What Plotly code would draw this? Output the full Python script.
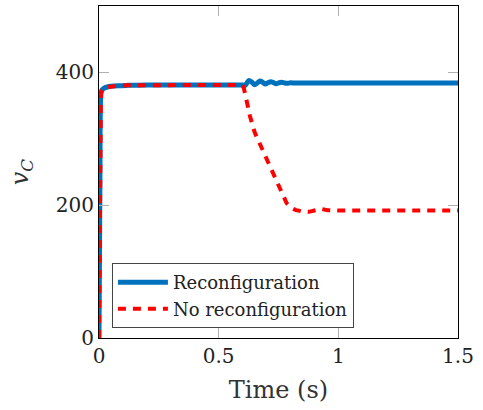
import plotly.graph_objects as go

# Reconfiguration (blue)
t_reconf = [0.0, 0.004, 0.008, 0.012, 0.02, 0.035, 0.05, 0.08, 0.12, 0.2, 0.3, 0.4, 0.5, 0.6,
            0.610, 0.618, 0.627, 0.638, 0.650, 0.661, 0.673, 0.684, 0.695, 0.706, 0.718,
            0.729, 0.740, 0.751, 0.763, 0.774, 0.785, 0.80, 0.82, 0.9, 1.0, 1.2, 1.5]
v_reconf = [0, 250, 368, 373, 376, 378, 379, 380, 380.5, 381, 381, 381, 381, 381,
            380.5, 384, 388, 385.5, 381.5, 384, 387, 385, 382.5, 384.5, 386,
            384.5, 383, 384.3, 385.2, 384.2, 383.5, 384.3, 384, 384, 384, 384, 384]

# No reconfiguration (red dashed)
t_noreconf = [0.0, 0.004, 0.008, 0.012, 0.02, 0.035, 0.05, 0.08, 0.12, 0.2, 0.3, 0.4, 0.5, 0.6,
              0.606, 0.614, 0.631, 0.650, 0.675, 0.696, 0.725, 0.752, 0.770, 0.784, 0.80,
              0.82, 0.85, 0.877, 0.90, 0.927, 0.955, 1.0, 1.5]
v_noreconf = [0, 250, 368, 373, 376, 378, 379, 380, 380.5, 381, 381, 381, 381, 381,
              375, 360, 334, 310, 290, 270, 249, 227, 212, 203, 197,
              193, 190.5, 190, 192, 194.5, 192.5, 192, 192]

x_ticks = [0, 0.5, 1, 1.5]
x_ticklabels = ["0", "0.5", "1", "1.5"]
y_ticks = [0, 200, 400]
y_ticklabels = ["0", "200", "400"]

FONT = "DejaVu Serif"

fig = go.Figure()
fig.add_trace(go.Scatter(
    x=t_reconf, y=v_reconf, mode="lines", name="Reconfiguration",
    line=dict(color="rgb(0,114,189)", width=5, shape="spline", smoothing=0.8)))
fig.add_trace(go.Scatter(
    x=t_noreconf, y=v_noreconf, mode="lines", name="No reconfiguration",
    line=dict(color="rgb(255,0,0)", width=4, dash="8px,7px")))

axis_common = dict(
    showgrid=False, zeroline=False, showline=True, linecolor="black", linewidth=1.2,
    mirror="ticks", ticks="inside", ticklen=10, tickcolor="#b0b0b0", tickwidth=1.3,
    tickfont=dict(family=FONT, size=20, color="#222"), automargin=False,
)

fig.update_layout(
    width=483, height=410,
    margin=dict(l=99, r=25, t=6, b=72),
    paper_bgcolor="white", plot_bgcolor="white",
    showlegend=True,
    legend=dict(x=0.036, y=0.03, xanchor="left", yanchor="bottom",
                bgcolor="white", bordercolor="#444", borderwidth=1,
                font=dict(family=FONT, size=18, color="#222"),
                itemwidth=50, tracegroupgap=0),
    xaxis=dict(range=[0, 1.5], tickvals=x_ticks, ticktext=x_ticklabels,
               title=dict(text="Time (s)", font=dict(family=FONT, size=24, color="#333"), standoff=14),
               **axis_common),
    yaxis=dict(range=[0, 500], tickvals=y_ticks, ticktext=y_ticklabels,
               title=dict(text="<i>v</i><sub><i>C</i></sub>", font=dict(family=FONT, size=24, color="#333"), standoff=20),
               **axis_common),
)

fig.write_html("out.html", config={"displayModeBar": False},
               post_script="document.body.style.margin='0';document.body.style.overflow='hidden';")
